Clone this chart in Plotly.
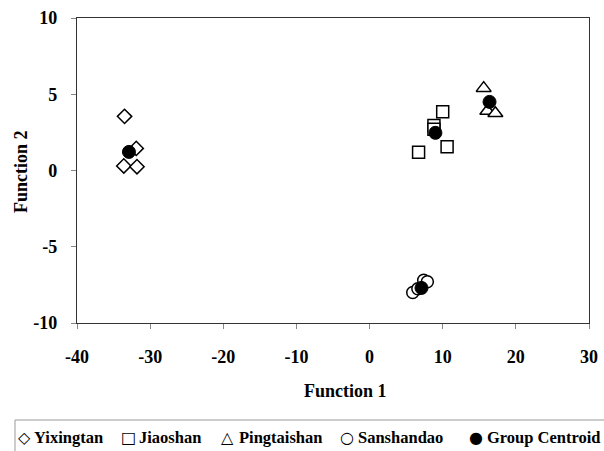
import plotly.graph_objects as go

# Data
yix_x = [-33.5, -31.9, -33.6, -31.8]
yix_y = [3.55, 1.45, 0.3, 0.25]
jiao_x = [10.0, 8.8, 8.8, 6.7, 10.6]
jiao_y = [3.85, 2.95, 2.7, 1.2, 1.55]
ping_x = [15.6, 16.1, 17.2]
ping_y = [5.4, 3.9, 3.75]
san_x = [5.9, 6.6, 7.4, 7.9]
san_y = [-8.0, -7.75, -7.2, -7.3]
cen_x = [-32.9, 9.0, 16.4, 7.1]
cen_y = [1.22, 2.47, 4.5, -7.7]

x_ticks = [-40, -30, -20, -10, 0, 10, 20, 30]
x_labels = ["-40", "-30", "-20", "-10", "0", "10", "20", "30"]
y_ticks = [-10, -5, 0, 5, 10]
y_labels = ["-10", "-5", "0", "5", "10"]

FONT = "Liberation Serif"
fig = go.Figure()

def open_trace(x, y, sym, size, name):
    fig.add_trace(go.Scatter(
        x=x, y=y, mode="markers", name=name, showlegend=False,
        marker=dict(symbol=sym, size=size, color="white",
                    line=dict(color="black", width=1.5))))

open_trace(yix_x, yix_y, "diamond", 11, "Yixingtan")
open_trace(jiao_x, jiao_y, "square", 12, "Jiaoshan")
open_trace(ping_x, ping_y, "triangle-up", 13, "Pingtaishan")
open_trace(san_x, san_y, "circle", 12, "Sanshandao")
fig.add_trace(go.Scatter(
    x=cen_x, y=cen_y, mode="markers", name="Group Centroid", showlegend=False,
    marker=dict(symbol="circle", size=13, color="black",
                line=dict(color="black", width=1))))

axis_common = dict(
    showgrid=False, zeroline=False, showline=True, mirror=True, automargin=False,
    linecolor="#333333", linewidth=1.3, ticks="outside", ticklen=5,
    tickcolor="#888888",
    tickfont=dict(family=FONT, size=18, color="black", weight="bold"),
)
fig.update_xaxes(range=[-40, 30], tickvals=x_ticks, ticktext=x_labels,
                 ticklabelstandoff=12, **axis_common)
fig.update_yaxes(range=[-10, 10], tickvals=y_ticks, ticktext=y_labels,
                 ticklabelstandoff=10, **axis_common)

W, L, T, H = 512, 77, 18, 305
def px(xp):
    return (xp - L) / W
def py(yp):
    return (T + H - yp) / H

# axis titles
fig.add_annotation(text="<b>Function 1</b>", xref="paper", yref="paper",
                   x=px(345), y=py(391), showarrow=False,
                   xanchor="center", yanchor="middle",
                   font=dict(family=FONT, size=18, color="black"))
fig.add_annotation(text="<b>Function 2</b>", xref="paper", yref="paper",
                   x=px(21), y=py(172), showarrow=False, textangle=-90,
                   xanchor="center", yanchor="middle",
                   font=dict(family=FONT, size=18, color="black"))

# legend box and entries
fig.add_shape(type="rect", xref="paper", yref="paper",
              x0=px(15), x1=px(640), y0=py(420), y1=py(480),
              line=dict(color="#999999", width=1), fillcolor="rgba(0,0,0,0)")

leg_names = ["Yixingtan", "Jiaoshan", "Pingtaishan", "Sanshandao", "Group Centroid"]
leg_glyphs = ["\u25C7", "\u25A1", "\u25B3", "\u25CB", "\u25CF"]
leg_glyph_x = [24, 128, 227, 347, 476]
leg_text_x = [32, 137, 237, 356, 485]
for g, n, gx, tx in zip(leg_glyphs, leg_names, leg_glyph_x, leg_text_x):
    fig.add_annotation(text=g, xref="paper", yref="paper",
                       x=px(gx), y=py(437), xanchor="center", yanchor="middle",
                       showarrow=False,
                       font=dict(family="DejaVu Sans", size=16, color="black"))
    fig.add_annotation(text="<b>" + n + "</b>", xref="paper", yref="paper",
                       x=px(tx), y=py(437), xanchor="left", yanchor="middle",
                       showarrow=False,
                       font=dict(family=FONT, size=16.5, color="black"))

fig.update_layout(
    width=604, height=451, margin=dict(l=L, r=15, t=T, b=128),
    plot_bgcolor="white", paper_bgcolor="white", showlegend=False,
)
fig.write_html("out.html", config={"displayModeBar": False},
               post_script="document.body.style.margin='0';"
                           "document.body.style.overflow='hidden';")
